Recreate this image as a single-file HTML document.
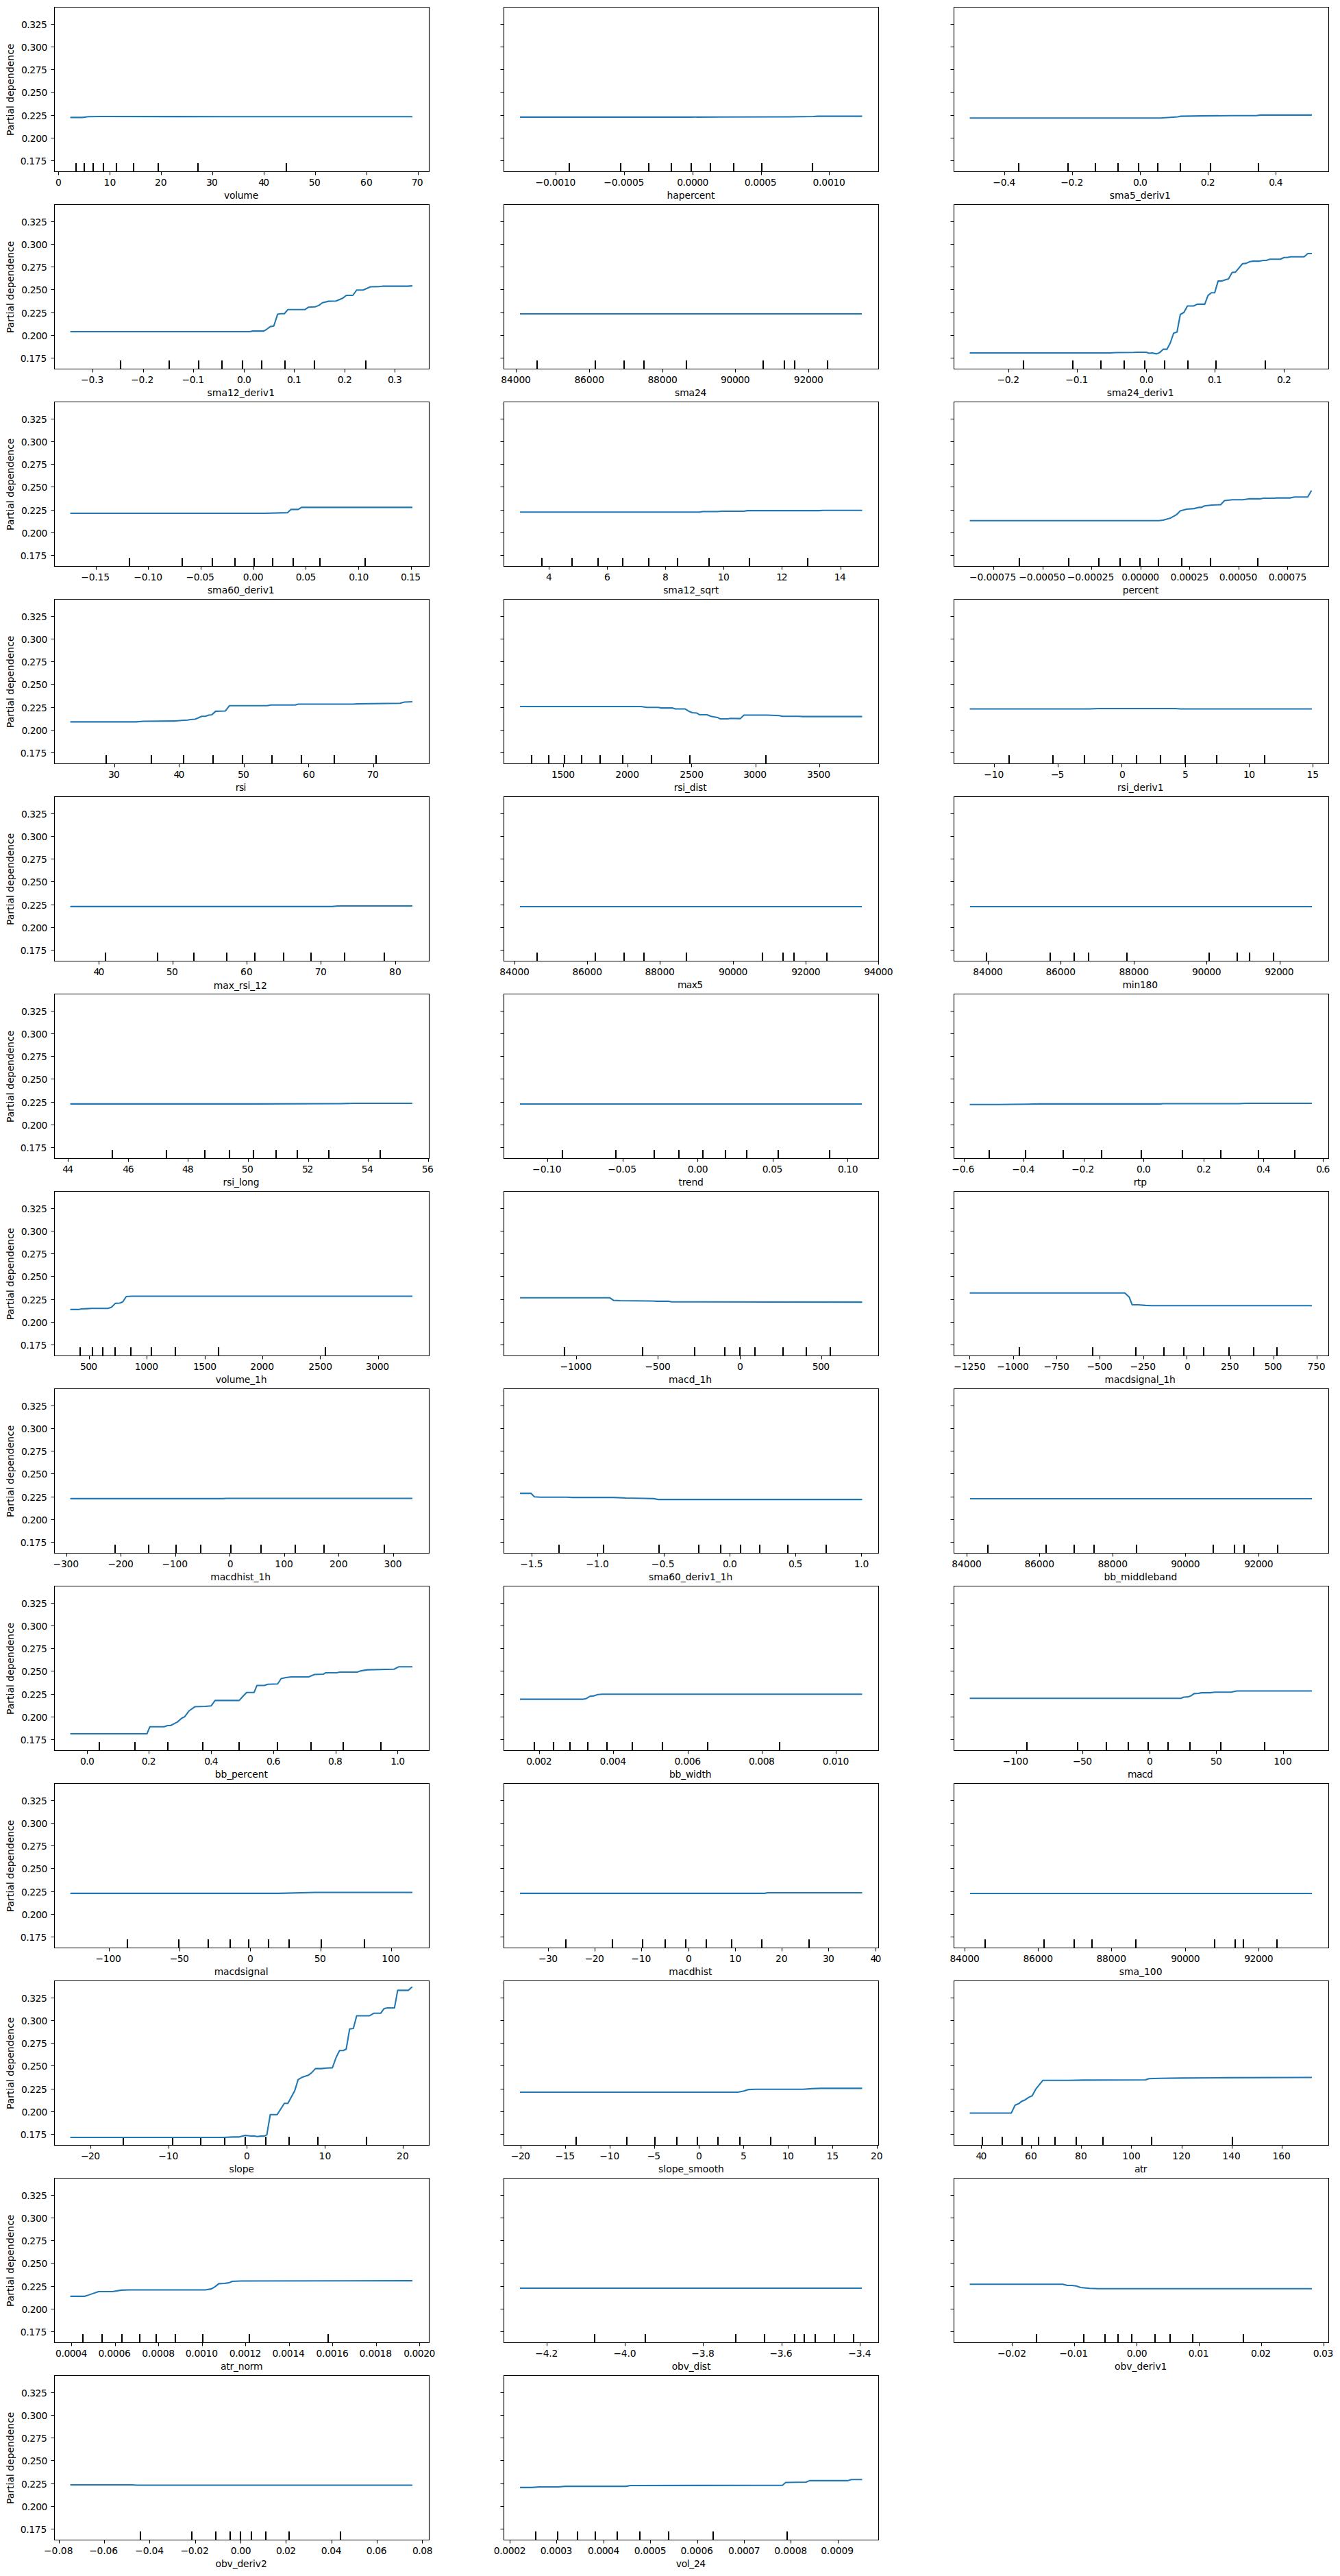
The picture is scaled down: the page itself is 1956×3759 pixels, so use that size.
<!DOCTYPE html>
<html><head><meta charset="utf-8"><title>Partial dependence plots</title>
<style>html,body{margin:0;padding:0;background:#fff;}body{width:1956px;height:3759px;overflow:hidden;}svg{display:block;}</style>
</head><body>
<svg width="1956" height="3759" viewBox="0 0 1956 3759">
<path fill="none" stroke="#000" stroke-width="1.11" stroke-linecap="square" d="M79.5 250.5 L79.5 10.5M626.5 250.5 L626.5 10.5M79.5 250.5 L626.5 250.5M79.5 10.5 L626.5 10.5M735.5 250.5 L735.5 10.5M1282.5 250.5 L1282.5 10.5M735.5 250.5 L1282.5 250.5M735.5 10.5 L1282.5 10.5M1392.5 250.5 L1392.5 10.5M1939.5 250.5 L1939.5 10.5M1392.5 250.5 L1939.5 250.5M1392.5 10.5 L1939.5 10.5M79.5 538.5 L79.5 298.5M626.5 538.5 L626.5 298.5M79.5 538.5 L626.5 538.5M79.5 298.5 L626.5 298.5M735.5 538.5 L735.5 298.5M1282.5 538.5 L1282.5 298.5M735.5 538.5 L1282.5 538.5M735.5 298.5 L1282.5 298.5M1392.5 538.5 L1392.5 298.5M1939.5 538.5 L1939.5 298.5M1392.5 538.5 L1939.5 538.5M1392.5 298.5 L1939.5 298.5M79.5 826.5 L79.5 586.5M626.5 826.5 L626.5 586.5M79.5 826.5 L626.5 826.5M79.5 586.5 L626.5 586.5M735.5 826.5 L735.5 586.5M1282.5 826.5 L1282.5 586.5M735.5 826.5 L1282.5 826.5M735.5 586.5 L1282.5 586.5M1392.5 826.5 L1392.5 586.5M1939.5 826.5 L1939.5 586.5M1392.5 826.5 L1939.5 826.5M1392.5 586.5 L1939.5 586.5M79.5 1114.5 L79.5 874.5M626.5 1114.5 L626.5 874.5M79.5 1114.5 L626.5 1114.5M79.5 874.5 L626.5 874.5M735.5 1114.5 L735.5 874.5M1282.5 1114.5 L1282.5 874.5M735.5 1114.5 L1282.5 1114.5M735.5 874.5 L1282.5 874.5M1392.5 1114.5 L1392.5 874.5M1939.5 1114.5 L1939.5 874.5M1392.5 1114.5 L1939.5 1114.5M1392.5 874.5 L1939.5 874.5M79.5 1402.5 L79.5 1162.5M626.5 1402.5 L626.5 1162.5M79.5 1402.5 L626.5 1402.5M79.5 1162.5 L626.5 1162.5M735.5 1402.5 L735.5 1162.5M1282.5 1402.5 L1282.5 1162.5M735.5 1402.5 L1282.5 1402.5M735.5 1162.5 L1282.5 1162.5M1392.5 1402.5 L1392.5 1162.5M1939.5 1402.5 L1939.5 1162.5M1392.5 1402.5 L1939.5 1402.5M1392.5 1162.5 L1939.5 1162.5M79.5 1690.5 L79.5 1450.5M626.5 1690.5 L626.5 1450.5M79.5 1690.5 L626.5 1690.5M79.5 1450.5 L626.5 1450.5M735.5 1690.5 L735.5 1450.5M1282.5 1690.5 L1282.5 1450.5M735.5 1690.5 L1282.5 1690.5M735.5 1450.5 L1282.5 1450.5M1392.5 1690.5 L1392.5 1450.5M1939.5 1690.5 L1939.5 1450.5M1392.5 1690.5 L1939.5 1690.5M1392.5 1450.5 L1939.5 1450.5M79.5 1978.5 L79.5 1738.5M626.5 1978.5 L626.5 1738.5M79.5 1978.5 L626.5 1978.5M79.5 1738.5 L626.5 1738.5M735.5 1978.5 L735.5 1738.5M1282.5 1978.5 L1282.5 1738.5M735.5 1978.5 L1282.5 1978.5M735.5 1738.5 L1282.5 1738.5M1392.5 1978.5 L1392.5 1738.5M1939.5 1978.5 L1939.5 1738.5M1392.5 1978.5 L1939.5 1978.5M1392.5 1738.5 L1939.5 1738.5M79.5 2266.5 L79.5 2026.5M626.5 2266.5 L626.5 2026.5M79.5 2266.5 L626.5 2266.5M79.5 2026.5 L626.5 2026.5M735.5 2266.5 L735.5 2026.5M1282.5 2266.5 L1282.5 2026.5M735.5 2266.5 L1282.5 2266.5M735.5 2026.5 L1282.5 2026.5M1392.5 2266.5 L1392.5 2026.5M1939.5 2266.5 L1939.5 2026.5M1392.5 2266.5 L1939.5 2266.5M1392.5 2026.5 L1939.5 2026.5M79.5 2554.5 L79.5 2314.5M626.5 2554.5 L626.5 2314.5M79.5 2554.5 L626.5 2554.5M79.5 2314.5 L626.5 2314.5M735.5 2554.5 L735.5 2314.5M1282.5 2554.5 L1282.5 2314.5M735.5 2554.5 L1282.5 2554.5M735.5 2314.5 L1282.5 2314.5M1392.5 2554.5 L1392.5 2314.5M1939.5 2554.5 L1939.5 2314.5M1392.5 2554.5 L1939.5 2554.5M1392.5 2314.5 L1939.5 2314.5M79.5 2842.5 L79.5 2602.5M626.5 2842.5 L626.5 2602.5M79.5 2842.5 L626.5 2842.5M79.5 2602.5 L626.5 2602.5M735.5 2842.5 L735.5 2602.5M1282.5 2842.5 L1282.5 2602.5M735.5 2842.5 L1282.5 2842.5M735.5 2602.5 L1282.5 2602.5M1392.5 2842.5 L1392.5 2602.5M1939.5 2842.5 L1939.5 2602.5M1392.5 2842.5 L1939.5 2842.5M1392.5 2602.5 L1939.5 2602.5M79.5 3130.5 L79.5 2890.5M626.5 3130.5 L626.5 2890.5M79.5 3130.5 L626.5 3130.5M79.5 2890.5 L626.5 2890.5M735.5 3130.5 L735.5 2890.5M1282.5 3130.5 L1282.5 2890.5M735.5 3130.5 L1282.5 3130.5M735.5 2890.5 L1282.5 2890.5M1392.5 3130.5 L1392.5 2890.5M1939.5 3130.5 L1939.5 2890.5M1392.5 3130.5 L1939.5 3130.5M1392.5 2890.5 L1939.5 2890.5M79.5 3418.5 L79.5 3178.5M626.5 3418.5 L626.5 3178.5M79.5 3418.5 L626.5 3418.5M79.5 3178.5 L626.5 3178.5M735.5 3418.5 L735.5 3178.5M1282.5 3418.5 L1282.5 3178.5M735.5 3418.5 L1282.5 3418.5M735.5 3178.5 L1282.5 3178.5M1392.5 3418.5 L1392.5 3178.5M1939.5 3418.5 L1939.5 3178.5M1392.5 3418.5 L1939.5 3418.5M1392.5 3178.5 L1939.5 3178.5M79.5 3706.5 L79.5 3466.5M626.5 3706.5 L626.5 3466.5M79.5 3706.5 L626.5 3706.5M79.5 3466.5 L626.5 3466.5M735.5 3706.5 L735.5 3466.5M1282.5 3706.5 L1282.5 3466.5M735.5 3706.5 L1282.5 3706.5M735.5 3466.5 L1282.5 3466.5"/>
<path fill="none" stroke="#000" stroke-width="1.11" stroke-linecap="butt" d="M85.5 250.5v5M160.5 250.5v5M235.5 250.5v5M310.5 250.5v5M385.5 250.5v5M460.5 250.5v5M535.5 250.5v5M610.5 250.5v5M79.5 234.5h-5M79.5 201.5h-5M79.5 168.5h-5M79.5 134.5h-5M79.5 101.5h-5M79.5 68.5h-5M79.5 35.5h-5M811.5 250.5v5M911.5 250.5v5M1011.5 250.5v5M1111.5 250.5v5M1210.5 250.5v5M735.5 234.5h-5M735.5 201.5h-5M735.5 168.5h-5M735.5 134.5h-5M735.5 101.5h-5M735.5 68.5h-5M735.5 35.5h-5M1466.5 250.5v5M1565.5 250.5v5M1664.5 250.5v5M1763.5 250.5v5M1862.5 250.5v5M1392.5 234.5h-5M1392.5 201.5h-5M1392.5 168.5h-5M1392.5 134.5h-5M1392.5 101.5h-5M1392.5 68.5h-5M1392.5 35.5h-5M135.5 538.5v5M209.5 538.5v5M282.5 538.5v5M356.5 538.5v5M429.5 538.5v5M503.5 538.5v5M576.5 538.5v5M79.5 522.5h-5M79.5 489.5h-5M79.5 456.5h-5M79.5 422.5h-5M79.5 389.5h-5M79.5 356.5h-5M79.5 323.5h-5M753.5 538.5v5M860.5 538.5v5M967.5 538.5v5M1073.5 538.5v5M1180.5 538.5v5M735.5 522.5h-5M735.5 489.5h-5M735.5 456.5h-5M735.5 422.5h-5M735.5 389.5h-5M735.5 356.5h-5M735.5 323.5h-5M1472.5 538.5v5M1572.5 538.5v5M1673.5 538.5v5M1773.5 538.5v5M1874.5 538.5v5M1392.5 522.5h-5M1392.5 489.5h-5M1392.5 456.5h-5M1392.5 422.5h-5M1392.5 389.5h-5M1392.5 356.5h-5M1392.5 323.5h-5M140.5 826.5v5M216.5 826.5v5M293.5 826.5v5M370.5 826.5v5M446.5 826.5v5M523.5 826.5v5M600.5 826.5v5M79.5 810.5h-5M79.5 777.5h-5M79.5 744.5h-5M79.5 710.5h-5M79.5 677.5h-5M79.5 644.5h-5M79.5 611.5h-5M801.5 826.5v5M886.5 826.5v5M971.5 826.5v5M1056.5 826.5v5M1141.5 826.5v5M1227.5 826.5v5M735.5 810.5h-5M735.5 777.5h-5M735.5 744.5h-5M735.5 710.5h-5M735.5 677.5h-5M735.5 644.5h-5M735.5 611.5h-5M1450.5 826.5v5M1522.5 826.5v5M1593.5 826.5v5M1665.5 826.5v5M1736.5 826.5v5M1808.5 826.5v5M1879.5 826.5v5M1392.5 810.5h-5M1392.5 777.5h-5M1392.5 744.5h-5M1392.5 710.5h-5M1392.5 677.5h-5M1392.5 644.5h-5M1392.5 611.5h-5M167.5 1114.5v5M261.5 1114.5v5M356.5 1114.5v5M450.5 1114.5v5M545.5 1114.5v5M79.5 1098.5h-5M79.5 1065.5h-5M79.5 1032.5h-5M79.5 998.5h-5M79.5 965.5h-5M79.5 932.5h-5M79.5 899.5h-5M822.5 1114.5v5M916.5 1114.5v5M1009.5 1114.5v5M1103.5 1114.5v5M1196.5 1114.5v5M735.5 1098.5h-5M735.5 1065.5h-5M735.5 1032.5h-5M735.5 998.5h-5M735.5 965.5h-5M735.5 932.5h-5M735.5 899.5h-5M1451.5 1114.5v5M1544.5 1114.5v5M1637.5 1114.5v5M1730.5 1114.5v5M1823.5 1114.5v5M1916.5 1114.5v5M1392.5 1098.5h-5M1392.5 1065.5h-5M1392.5 1032.5h-5M1392.5 998.5h-5M1392.5 965.5h-5M1392.5 932.5h-5M1392.5 899.5h-5M144.5 1402.5v5M252.5 1402.5v5M360.5 1402.5v5M468.5 1402.5v5M577.5 1402.5v5M79.5 1386.5h-5M79.5 1353.5h-5M79.5 1320.5h-5M79.5 1286.5h-5M79.5 1253.5h-5M79.5 1220.5h-5M79.5 1187.5h-5M751.5 1402.5v5M857.5 1402.5v5M963.5 1402.5v5M1070.5 1402.5v5M1176.5 1402.5v5M1282.5 1402.5v5M735.5 1386.5h-5M735.5 1353.5h-5M735.5 1320.5h-5M735.5 1286.5h-5M735.5 1253.5h-5M735.5 1220.5h-5M735.5 1187.5h-5M1442.5 1402.5v5M1548.5 1402.5v5M1655.5 1402.5v5M1761.5 1402.5v5M1868.5 1402.5v5M1392.5 1386.5h-5M1392.5 1353.5h-5M1392.5 1320.5h-5M1392.5 1286.5h-5M1392.5 1253.5h-5M1392.5 1220.5h-5M1392.5 1187.5h-5M99.5 1690.5v5M187.5 1690.5v5M274.5 1690.5v5M362.5 1690.5v5M450.5 1690.5v5M537.5 1690.5v5M625.5 1690.5v5M79.5 1674.5h-5M79.5 1641.5h-5M79.5 1608.5h-5M79.5 1574.5h-5M79.5 1541.5h-5M79.5 1508.5h-5M79.5 1475.5h-5M799.5 1690.5v5M909.5 1690.5v5M1018.5 1690.5v5M1128.5 1690.5v5M1237.5 1690.5v5M735.5 1674.5h-5M735.5 1641.5h-5M735.5 1608.5h-5M735.5 1574.5h-5M735.5 1541.5h-5M735.5 1508.5h-5M735.5 1475.5h-5M1407.5 1690.5v5M1494.5 1690.5v5M1582.5 1690.5v5M1669.5 1690.5v5M1757.5 1690.5v5M1844.5 1690.5v5M1931.5 1690.5v5M1392.5 1674.5h-5M1392.5 1641.5h-5M1392.5 1608.5h-5M1392.5 1574.5h-5M1392.5 1541.5h-5M1392.5 1508.5h-5M1392.5 1475.5h-5M130.5 1978.5v5M214.5 1978.5v5M299.5 1978.5v5M383.5 1978.5v5M467.5 1978.5v5M552.5 1978.5v5M79.5 1962.5h-5M79.5 1929.5h-5M79.5 1896.5h-5M79.5 1862.5h-5M79.5 1829.5h-5M79.5 1796.5h-5M79.5 1763.5h-5M841.5 1978.5v5M960.5 1978.5v5M1080.5 1978.5v5M1199.5 1978.5v5M735.5 1962.5h-5M735.5 1929.5h-5M735.5 1896.5h-5M735.5 1862.5h-5M735.5 1829.5h-5M735.5 1796.5h-5M735.5 1763.5h-5M1415.5 1978.5v5M1479.5 1978.5v5M1542.5 1978.5v5M1605.5 1978.5v5M1669.5 1978.5v5M1732.5 1978.5v5M1796.5 1978.5v5M1859.5 1978.5v5M1922.5 1978.5v5M1392.5 1962.5h-5M1392.5 1929.5h-5M1392.5 1896.5h-5M1392.5 1862.5h-5M1392.5 1829.5h-5M1392.5 1796.5h-5M1392.5 1763.5h-5M97.5 2266.5v5M176.5 2266.5v5M256.5 2266.5v5M335.5 2266.5v5M415.5 2266.5v5M494.5 2266.5v5M574.5 2266.5v5M79.5 2250.5h-5M79.5 2217.5h-5M79.5 2184.5h-5M79.5 2150.5h-5M79.5 2117.5h-5M79.5 2084.5h-5M79.5 2051.5h-5M776.5 2266.5v5M872.5 2266.5v5M969.5 2266.5v5M1065.5 2266.5v5M1161.5 2266.5v5M1257.5 2266.5v5M735.5 2250.5h-5M735.5 2217.5h-5M735.5 2184.5h-5M735.5 2150.5h-5M735.5 2117.5h-5M735.5 2084.5h-5M735.5 2051.5h-5M1411.5 2266.5v5M1517.5 2266.5v5M1624.5 2266.5v5M1730.5 2266.5v5M1837.5 2266.5v5M1392.5 2250.5h-5M1392.5 2217.5h-5M1392.5 2184.5h-5M1392.5 2150.5h-5M1392.5 2117.5h-5M1392.5 2084.5h-5M1392.5 2051.5h-5M127.5 2554.5v5M217.5 2554.5v5M308.5 2554.5v5M399.5 2554.5v5M490.5 2554.5v5M580.5 2554.5v5M79.5 2538.5h-5M79.5 2505.5h-5M79.5 2472.5h-5M79.5 2438.5h-5M79.5 2405.5h-5M79.5 2372.5h-5M79.5 2339.5h-5M787.5 2554.5v5M895.5 2554.5v5M1004.5 2554.5v5M1112.5 2554.5v5M1220.5 2554.5v5M735.5 2538.5h-5M735.5 2505.5h-5M735.5 2472.5h-5M735.5 2438.5h-5M735.5 2405.5h-5M735.5 2372.5h-5M735.5 2339.5h-5M1483.5 2554.5v5M1580.5 2554.5v5M1678.5 2554.5v5M1775.5 2554.5v5M1873.5 2554.5v5M1392.5 2538.5h-5M1392.5 2505.5h-5M1392.5 2472.5h-5M1392.5 2438.5h-5M1392.5 2405.5h-5M1392.5 2372.5h-5M1392.5 2339.5h-5M159.5 2842.5v5M262.5 2842.5v5M365.5 2842.5v5M468.5 2842.5v5M571.5 2842.5v5M79.5 2826.5h-5M79.5 2793.5h-5M79.5 2760.5h-5M79.5 2726.5h-5M79.5 2693.5h-5M79.5 2660.5h-5M79.5 2627.5h-5M800.5 2842.5v5M868.5 2842.5v5M936.5 2842.5v5M1005.5 2842.5v5M1073.5 2842.5v5M1141.5 2842.5v5M1209.5 2842.5v5M1278.5 2842.5v5M735.5 2826.5h-5M735.5 2793.5h-5M735.5 2760.5h-5M735.5 2726.5h-5M735.5 2693.5h-5M735.5 2660.5h-5M735.5 2627.5h-5M1408.5 2842.5v5M1515.5 2842.5v5M1622.5 2842.5v5M1730.5 2842.5v5M1837.5 2842.5v5M1392.5 2826.5h-5M1392.5 2793.5h-5M1392.5 2760.5h-5M1392.5 2726.5h-5M1392.5 2693.5h-5M1392.5 2660.5h-5M1392.5 2627.5h-5M132.5 3130.5v5M246.5 3130.5v5M360.5 3130.5v5M474.5 3130.5v5M588.5 3130.5v5M79.5 3114.5h-5M79.5 3081.5h-5M79.5 3048.5h-5M79.5 3014.5h-5M79.5 2981.5h-5M79.5 2948.5h-5M79.5 2915.5h-5M760.5 3130.5v5M825.5 3130.5v5M890.5 3130.5v5M955.5 3130.5v5M1020.5 3130.5v5M1085.5 3130.5v5M1150.5 3130.5v5M1215.5 3130.5v5M1280.5 3130.5v5M735.5 3114.5h-5M735.5 3081.5h-5M735.5 3048.5h-5M735.5 3014.5h-5M735.5 2981.5h-5M735.5 2948.5h-5M735.5 2915.5h-5M1432.5 3130.5v5M1505.5 3130.5v5M1578.5 3130.5v5M1651.5 3130.5v5M1725.5 3130.5v5M1798.5 3130.5v5M1871.5 3130.5v5M1392.5 3114.5h-5M1392.5 3081.5h-5M1392.5 3048.5h-5M1392.5 3014.5h-5M1392.5 2981.5h-5M1392.5 2948.5h-5M1392.5 2915.5h-5M104.5 3418.5v5M168.5 3418.5v5M231.5 3418.5v5M295.5 3418.5v5M358.5 3418.5v5M422.5 3418.5v5M485.5 3418.5v5M549.5 3418.5v5M612.5 3418.5v5M79.5 3402.5h-5M79.5 3369.5h-5M79.5 3336.5h-5M79.5 3302.5h-5M79.5 3269.5h-5M79.5 3236.5h-5M79.5 3203.5h-5M798.5 3418.5v5M912.5 3418.5v5M1026.5 3418.5v5M1141.5 3418.5v5M1255.5 3418.5v5M735.5 3402.5h-5M735.5 3369.5h-5M735.5 3336.5h-5M735.5 3302.5h-5M735.5 3269.5h-5M735.5 3236.5h-5M735.5 3203.5h-5M1477.5 3418.5v5M1568.5 3418.5v5M1659.5 3418.5v5M1750.5 3418.5v5M1841.5 3418.5v5M1932.5 3418.5v5M1392.5 3402.5h-5M1392.5 3369.5h-5M1392.5 3336.5h-5M1392.5 3302.5h-5M1392.5 3269.5h-5M1392.5 3236.5h-5M1392.5 3203.5h-5M86.5 3706.5v5M152.5 3706.5v5M218.5 3706.5v5M285.5 3706.5v5M351.5 3706.5v5M417.5 3706.5v5M484.5 3706.5v5M550.5 3706.5v5M616.5 3706.5v5M79.5 3690.5h-5M79.5 3657.5h-5M79.5 3624.5h-5M79.5 3590.5h-5M79.5 3557.5h-5M79.5 3524.5h-5M79.5 3491.5h-5M744.5 3706.5v5M812.5 3706.5v5M881.5 3706.5v5M949.5 3706.5v5M1018.5 3706.5v5M1086.5 3706.5v5M1154.5 3706.5v5M1223.5 3706.5v5M735.5 3690.5h-5M735.5 3657.5h-5M735.5 3624.5h-5M735.5 3590.5h-5M735.5 3557.5h-5M735.5 3524.5h-5M735.5 3491.5h-5"/>
<path fill="none" stroke="#000" stroke-width="2.08" stroke-linecap="butt" d="M111 250V238M123 250V238M136 250V238M151 250V238M170 250V238M195 250V238M231 250V238M289 250V238M418 250V238M831 250V238M906 250V238M947 250V238M980 250V238M1009 250V238M1037 250V238M1071 250V238M1112 250V238M1186 250V238M1487 250V238M1559 250V238M1599 250V238M1632 250V238M1662 250V238M1690 250V238M1723 250V238M1767 250V238M1837 250V238M176 538V526M247 538V526M290 538V526M324 538V526M354 538V526M382 538V526M416 538V526M459 538V526M534 538V526M784 538V526M869 538V526M911 538V526M940 538V526M1002 538V526M1114 538V526M1145 538V526M1160 538V526M1208 538V526M1494 538V526M1566 538V526M1607 538V526M1641 538V526M1671 538V526M1700 538V526M1734 538V526M1775 538V526M1847 538V526M189 826V814M266 826V814M310 826V814M343 826V814M371 826V814M398 826V814M428 826V814M467 826V814M533 826V814M791 826V814M835 826V814M873 826V814M909 826V814M947 826V814M989 826V814M1035 826V814M1094 826V814M1179 826V814M1488 826V814M1560 826V814M1604 826V814M1635 826V814M1664 826V814M1691 826V814M1725 826V814M1767 826V814M1836 826V814M155 1114V1102M221 1114V1102M268 1114V1102M311 1114V1102M354 1114V1102M397 1114V1102M440 1114V1102M488 1114V1102M549 1114V1102M776 1114V1102M801 1114V1102M824 1114V1102M849 1114V1102M876 1114V1102M909 1114V1102M951 1114V1102M1007 1114V1102M1118 1114V1102M1473 1114V1102M1537 1114V1102M1583 1114V1102M1624 1114V1102M1659 1114V1102M1694 1114V1102M1730 1114V1102M1776 1114V1102M1846 1114V1102M154 1402V1390M230 1402V1390M283 1402V1390M331 1402V1390M372 1402V1390M414 1402V1390M454 1402V1390M503 1402V1390M561 1402V1390M784 1402V1390M869 1402V1390M911 1402V1390M940 1402V1390M1002 1402V1390M1113 1402V1390M1143 1402V1390M1159 1402V1390M1207 1402V1390M1440 1402V1390M1533 1402V1390M1568 1402V1390M1589 1402V1390M1645 1402V1390M1765 1402V1390M1806 1402V1390M1824 1402V1390M1859 1402V1390M164 1690V1678M243 1690V1678M299 1690V1678M335 1690V1678M370 1690V1678M403 1690V1678M434 1690V1678M480 1690V1678M555 1690V1678M821 1690V1678M899 1690V1678M955 1690V1678M991 1690V1678M1026 1690V1678M1059 1690V1678M1090 1690V1678M1136 1690V1678M1211 1690V1678M1444 1690V1678M1497 1690V1678M1552 1690V1678M1608 1690V1678M1666 1690V1678M1726 1690V1678M1782 1690V1678M1837 1690V1678M1890 1690V1678M117 1978V1966M135 1978V1966M150 1978V1966M168 1978V1966M191 1978V1966M221 1978V1966M256 1978V1966M319 1978V1966M475 1978V1966M824 1978V1966M938 1978V1966M1014 1978V1966M1058 1978V1966M1080 1978V1966M1102 1978V1966M1143 1978V1966M1177 1978V1966M1212 1978V1966M1488 1978V1966M1595 1978V1966M1658 1978V1966M1699 1978V1966M1728 1978V1966M1757 1978V1966M1794 1978V1966M1830 1978V1966M1864 1978V1966M168 2266V2254M217 2266V2254M257 2266V2254M293 2266V2254M337 2266V2254M381 2266V2254M431 2266V2254M473 2266V2254M561 2266V2254M816 2266V2254M881 2266V2254M962 2266V2254M1020 2266V2254M1052 2266V2254M1081 2266V2254M1109 2266V2254M1150 2266V2254M1206 2266V2254M1442 2266V2254M1527 2266V2254M1568 2266V2254M1597 2266V2254M1659 2266V2254M1771 2266V2254M1802 2266V2254M1816 2266V2254M1865 2266V2254M145 2554V2542M197 2554V2542M245 2554V2542M296 2554V2542M349 2554V2542M405 2554V2542M454 2554V2542M501 2554V2542M556 2554V2542M780 2554V2542M808 2554V2542M832 2554V2542M858 2554V2542M886 2554V2542M923 2554V2542M967 2554V2542M1033 2554V2542M1138 2554V2542M1499 2554V2542M1573 2554V2542M1615 2554V2542M1647 2554V2542M1676 2554V2542M1705 2554V2542M1737 2554V2542M1782 2554V2542M1846 2554V2542M186 2842V2830M261 2842V2830M304 2842V2830M336 2842V2830M363 2842V2830M392 2842V2830M422 2842V2830M469 2842V2830M532 2842V2830M826 2842V2830M894 2842V2830M938 2842V2830M971 2842V2830M1001 2842V2830M1031 2842V2830M1068 2842V2830M1112 2842V2830M1181 2842V2830M1438 2842V2830M1524 2842V2830M1568 2842V2830M1594 2842V2830M1658 2842V2830M1773 2842V2830M1803 2842V2830M1815 2842V2830M1864 2842V2830M180 3130V3118M252 3130V3118M293 3130V3118M328 3130V3118M358 3130V3118M388 3130V3118M422 3130V3118M464 3130V3118M535 3130V3118M841 3130V3118M915 3130V3118M956 3130V3118M988 3130V3118M1018 3130V3118M1048 3130V3118M1080 3130V3118M1125 3130V3118M1190 3130V3118M1434 3130V3118M1463 3130V3118M1492 3130V3118M1516 3130V3118M1540 3130V3118M1571 3130V3118M1610 3130V3118M1681 3130V3118M1799 3130V3118M121 3418V3406M149 3418V3406M178 3418V3406M204 3418V3406M228 3418V3406M256 3418V3406M296 3418V3406M364 3418V3406M479 3418V3406M868 3418V3406M942 3418V3406M1074 3418V3406M1116 3418V3406M1160 3418V3406M1174 3418V3406M1190 3418V3406M1218 3418V3406M1246 3418V3406M1513 3418V3406M1582 3418V3406M1613 3418V3406M1632 3418V3406M1652 3418V3406M1686 3418V3406M1708 3418V3406M1741 3418V3406M1815 3418V3406M205 3706V3694M280 3706V3694M315 3706V3694M336 3706V3694M351 3706V3694M367 3706V3694M388 3706V3694M422 3706V3694M497 3706V3694M782 3706V3694M814 3706V3694M843 3706V3694M869 3706V3694M901 3706V3694M934 3706V3694M976 3706V3694M1041 3706V3694M1149 3706V3694"/>
<path fill="none" stroke="#1f77b4" stroke-width="2.08" stroke-linecap="square" stroke-linejoin="round" d="M103.64 171.36 L120.37 171.36 L129.03 170.28 L146.34 170.06 L340.11 170.19 L600.97 170.19"/>
<path fill="none" stroke="#1f77b4" stroke-width="2.08" stroke-linecap="square" stroke-linejoin="round" d="M760.11 170.88 L1008.41 170.88 L1051.47 170.67 L1152.66 170.45 L1187.1 170.02 L1193.56 169.59 L1257.44 169.59"/>
<path fill="none" stroke="#1f77b4" stroke-width="2.08" stroke-linecap="square" stroke-linejoin="round" d="M1416.59 172.18 L1693.55 172.18 L1719.39 170.45 L1723.69 169.59 L1753.83 169.16 L1796.89 168.73 L1833.49 168.73 L1839.95 167.87 L1913.91 167.87"/>
<path fill="none" stroke="#1f77b4" stroke-width="2.08" stroke-linecap="square" stroke-linejoin="round" d="M103.64 483.97 L364.32 483.97 L368.63 483.11 L384.99 483.11 L389.3 480.52 L394.47 476.65 L399.63 475.79 L405.23 458.56 L410.4 457.7 L415.13 457.7 L420.3 451.67 L445.28 451.67 L450.44 448.23 L459.92 447.8 L465.51 445.65 L470.68 441.77 L479.72 439.62 L490.49 439.19 L499.96 435.31 L505.56 431.01 L515.03 431.01 L520.63 423.26 L530.1 423.26 L540.87 418.52 L553.79 418.09 L558.09 417.66 L594.69 417.66 L600.97 417.23"/>
<path fill="none" stroke="#1f77b4" stroke-width="2.08" stroke-linecap="square" stroke-linejoin="round" d="M760 458 L1257 458"/>
<path fill="none" stroke="#1f77b4" stroke-width="2.08" stroke-linecap="square" stroke-linejoin="round" d="M1416.59 514.97 L1620.35 514.97 L1628.96 514.54 L1654.8 514.33 L1660.11 513.98 L1673.09 513.98 L1677.42 515.5 L1681.75 515.06 L1688.24 516.36 L1692.57 514.63 L1697.98 509.65 L1703.39 509.65 L1708.15 500.78 L1713.13 486.28 L1718.11 484.55 L1722.87 459.01 L1728.28 455.76 L1733.26 446.46 L1742.35 446.46 L1747.76 443.86 L1758.58 443.86 L1763.34 431.09 L1768.32 427.2 L1773.08 427.2 L1778.05 410.1 L1783.46 410.1 L1788.87 408.15 L1793.2 407.07 L1798.61 397.55 L1803.37 397.12 L1813.76 384.78 L1818.74 384.35 L1824.58 381.75 L1828.91 381.1 L1838.65 381.1 L1844.06 380.02 L1848.39 380.02 L1853.8 378.29 L1868.95 378.29 L1874.36 375.69 L1878.69 375.69 L1884.1 374.82 L1903.58 374.82 L1908.99 370.06 L1913.91 370.06"/>
<path fill="none" stroke="#1f77b4" stroke-width="2.08" stroke-linecap="square" stroke-linejoin="round" d="M103.64 749.01 L385.85 749.01 L419.44 748.15 L424.61 743.41 L435.37 743.41 L440.11 740.4 L600.97 740.4"/>
<path fill="none" stroke="#1f77b4" stroke-width="2.08" stroke-linecap="square" stroke-linejoin="round" d="M760.11 747.29 L1021.32 747.29 L1025.63 746.43 L1047.16 746.43 L1053.62 746 L1085.91 746 L1091.08 745.14 L1195.72 745.14 L1202.18 744.71 L1257.44 744.71"/>
<path fill="none" stroke="#1f77b4" stroke-width="2.08" stroke-linecap="square" stroke-linejoin="round" d="M1416.59 759.78 L1691.4 759.78 L1697.86 758.91 L1708.62 755.9 L1717.23 751.16 L1722.83 745.57 L1732.3 742.98 L1743.07 742.12 L1749.53 740.4 L1753.83 740.4 L1758.14 738.25 L1768.9 736.95 L1781.82 736.52 L1787.42 730.5 L1799.05 729.2 L1814.12 729.2 L1822.73 727.91 L1839.09 727.91 L1844.26 727.05 L1859.33 727.05 L1863.63 726.62 L1883.01 726.62 L1889.47 725.33 L1908.85 725.33 L1913.91 716.72"/>
<path fill="none" stroke="#1f77b4" stroke-width="2.08" stroke-linecap="square" stroke-linejoin="round" d="M103.64 1053.37 L198.54 1053.37 L209.31 1052.51 L256.68 1052.08 L265.29 1051.22 L273.9 1050.79 L278.21 1049.93 L284.66 1049.5 L288.97 1047.78 L294.57 1045.19 L299.73 1045.19 L304.9 1043.47 L309.21 1043.04 L314.81 1037.87 L329.02 1037.44 L335.04 1029.69 L390.16 1029.69 L395.33 1028.83 L431.07 1028.83 L435.37 1027.54 L515.03 1027.54 L521.49 1027.11 L583.93 1026.25 L590.39 1024.52 L600.97 1024.09"/>
<path fill="none" stroke="#1f77b4" stroke-width="2.08" stroke-linecap="square" stroke-linejoin="round" d="M760.11 1030.98 L936.07 1030.98 L943.82 1032.27 L961.04 1032.27 L965.35 1033.14 L981.71 1033.14 L986.02 1034.43 L999.8 1034.43 L1006.25 1038.3 L1010.56 1040.03 L1017.02 1040.46 L1021.32 1043.04 L1032.09 1043.04 L1037.69 1045.19 L1047.16 1046.91 L1051.47 1049.07 L1062.23 1049.07 L1066.54 1048.21 L1080.75 1048.64 L1085.91 1043.47 L1120.36 1043.47 L1137.59 1044.33 L1141.89 1045.19 L1165.57 1045.19 L1172.03 1045.62 L1257.44 1045.62"/>
<path fill="none" stroke="#1f77b4" stroke-width="2.08" stroke-linecap="square" stroke-linejoin="round" d="M1416.59 1034.43 L1590.21 1034.43 L1603.12 1034 L1715.08 1034 L1723.69 1034.43 L1913.91 1034.43"/>
<path fill="none" stroke="#1f77b4" stroke-width="2.08" stroke-linecap="square" stroke-linejoin="round" d="M103.64 1322.86 L484.89 1322.86 L493.5 1322 L600.97 1322"/>
<path fill="none" stroke="#1f77b4" stroke-width="2.08" stroke-linecap="square" stroke-linejoin="round" d="M760 1323 L1257 1323"/>
<path fill="none" stroke="#1f77b4" stroke-width="2.08" stroke-linecap="square" stroke-linejoin="round" d="M1417 1323 L1914 1323"/>
<path fill="none" stroke="#1f77b4" stroke-width="2.08" stroke-linecap="square" stroke-linejoin="round" d="M103.64 1610.86 L368.63 1610.86 L497.81 1610.43 L517.19 1610 L600.97 1610"/>
<path fill="none" stroke="#1f77b4" stroke-width="2.08" stroke-linecap="square" stroke-linejoin="round" d="M760 1611 L1257 1611"/>
<path fill="none" stroke="#1f77b4" stroke-width="2.08" stroke-linecap="square" stroke-linejoin="round" d="M1416.59 1611.72 L1456.72 1611.72 L1499.78 1611.29 L1517.01 1610.86 L1693.55 1610.86 L1697.86 1610.43 L1809.81 1610.43 L1818.42 1610 L1913.91 1610"/>
<path fill="none" stroke="#1f77b4" stroke-width="2.08" stroke-linecap="square" stroke-linejoin="round" d="M103.64 1910.91 L114.58 1910.91 L118.88 1910.05 L127.5 1909.62 L133.96 1909.19 L157.64 1909.19 L162.81 1907.47 L168.4 1901.87 L174.86 1901.44 L179.17 1899.72 L184.34 1891.97 L192.09 1891.54 L600.97 1891.54"/>
<path fill="none" stroke="#1f77b4" stroke-width="2.08" stroke-linecap="square" stroke-linejoin="round" d="M760.11 1893.69 L889.99 1893.69 L895.59 1897.57 L905.06 1898 L952.43 1898.43 L958.89 1898.86 L976.11 1898.86 L980.42 1899.72 L1257.44 1900.15"/>
<path fill="none" stroke="#1f77b4" stroke-width="2.08" stroke-linecap="square" stroke-linejoin="round" d="M1416.59 1886.8 L1641.88 1886.8 L1648.34 1892.83 L1652.64 1904.03 L1661.25 1904.03 L1672.02 1904.89 L1680.63 1905.32 L1913.91 1905.32"/>
<path fill="none" stroke="#1f77b4" stroke-width="2.08" stroke-linecap="square" stroke-linejoin="round" d="M103.64 2186.86 L325.57 2186.86 L329.88 2186.43 L600.97 2186.43"/>
<path fill="none" stroke="#1f77b4" stroke-width="2.08" stroke-linecap="square" stroke-linejoin="round" d="M760.11 2179.11 L775.02 2179.11 L780.19 2184.27 L788.8 2184.71 L827.56 2184.71 L836.17 2185.14 L896.45 2185.14 L913.68 2186 L939.51 2186.43 L954.58 2186.86 L961.04 2188.15 L1257.44 2188.15"/>
<path fill="none" stroke="#1f77b4" stroke-width="2.08" stroke-linecap="square" stroke-linejoin="round" d="M1417 2187 L1914 2187"/>
<path fill="none" stroke="#1f77b4" stroke-width="2.08" stroke-linecap="square" stroke-linejoin="round" d="M103.64 2530.06 L214.48 2530.06 L218.78 2519.73 L239.45 2519.73 L244.62 2518.01 L248.92 2518.01 L258.83 2512.84 L265.29 2507.24 L269.59 2505.09 L276.05 2496.48 L284.66 2490.45 L299.73 2490.02 L308.35 2489.16 L313.94 2481.41 L349.25 2481.41 L354.85 2474.95 L360.02 2469.78 L370.78 2469.78 L375.09 2459.44 L385.85 2459.44 L391.02 2457.72 L405.23 2457.29 L410.4 2449.54 L416 2448.25 L424.61 2446.96 L450.44 2446.96 L459.06 2443.51 L471.97 2443.08 L475.42 2440.93 L491.35 2440.93 L495.66 2440.07 L521.49 2440.07 L525.8 2438.35 L536.56 2436.62 L575.32 2435.76 L581.78 2432.32 L600.97 2432.32"/>
<path fill="none" stroke="#1f77b4" stroke-width="2.08" stroke-linecap="square" stroke-linejoin="round" d="M760.11 2479.59 L851.24 2479.59 L855.55 2478.73 L861.14 2475.29 L866.31 2474.86 L872.77 2472.71 L879.23 2472.27 L1257.44 2472.27"/>
<path fill="none" stroke="#1f77b4" stroke-width="2.08" stroke-linecap="square" stroke-linejoin="round" d="M1416.59 2478.3 L1723.69 2478.3 L1728 2476.58 L1734.46 2476.15 L1738.76 2474.43 L1743.07 2471.41 L1749.53 2470.98 L1753.83 2470.12 L1766.75 2470.12 L1773.21 2469.26 L1796.89 2469.26 L1805.5 2467.54 L1913.91 2467.54"/>
<path fill="none" stroke="#1f77b4" stroke-width="2.08" stroke-linecap="square" stroke-linejoin="round" d="M103.64 2762.86 L407.38 2762.86 L459.06 2761.57 L600.97 2761.57"/>
<path fill="none" stroke="#1f77b4" stroke-width="2.08" stroke-linecap="square" stroke-linejoin="round" d="M760.11 2762.86 L1116.06 2762.86 L1120.36 2762 L1257.44 2762"/>
<path fill="none" stroke="#1f77b4" stroke-width="2.08" stroke-linecap="square" stroke-linejoin="round" d="M1417 2763 L1914 2763"/>
<path fill="none" stroke="#1f77b4" stroke-width="2.08" stroke-linecap="square" stroke-linejoin="round" d="M103.64 3119.03 L325.57 3119.03 L340.1 3118.35 L349.17 3118.35 L358.23 3115.94 L366.29 3116.94 L370.32 3116.74 L375.36 3117.75 L380.4 3117.15 L385.43 3117.15 L389.46 3115.33 L394.5 3085.71 L404.58 3085.71 L415.05 3069.19 L420.29 3069.19 L430.16 3051.06 L435.2 3034.53 L440.84 3031.31 L449.91 3028.29 L454.95 3024.66 L460.39 3018.62 L469.05 3018.62 L477.11 3017.81 L485.17 3017.41 L490.81 3001.89 L495.65 2992.22 L500.89 2992.22 L505.32 2990.2 L510.36 2960.79 L515.8 2959.98 L520.63 2941.44 L539.58 2941.44 L545.62 2937.82 L555.69 2937.82 L560.73 2930.97 L565.77 2929.96 L575.84 2929.96 L580.48 2904.37 L595.99 2904.37 L600.97 2899.94"/>
<path fill="none" stroke="#1f77b4" stroke-width="2.08" stroke-linecap="square" stroke-linejoin="round" d="M760.11 3053.01 L1077.3 3053.01 L1085.91 3051.29 L1092.37 3049.14 L1103.14 3048.71 L1172.03 3048.71 L1184.95 3047.84 L1197.87 3047.41 L1257.44 3047.41"/>
<path fill="none" stroke="#1f77b4" stroke-width="2.08" stroke-linecap="square" stroke-linejoin="round" d="M1416.59 3083.58 L1476.1 3083.58 L1481.7 3071.96 L1486.86 3069.8 L1492.03 3065.93 L1496.34 3064.21 L1501.93 3060.33 L1506.67 3058.18 L1511.84 3048.71 L1522.17 3035.79 L1560.06 3035.79 L1581.59 3035.36 L1672.02 3034.93 L1677.19 3033.2 L1693.55 3032.77 L1723.69 3032.34 L1788.28 3031.91 L1913.91 3031.48"/>
<path fill="none" stroke="#1f77b4" stroke-width="2.08" stroke-linecap="square" stroke-linejoin="round" d="M103.64 3350.91 L123.19 3350.91 L127.5 3349.62 L136.11 3346.61 L143.86 3344.03 L164.1 3344.03 L177.02 3341.87 L187.78 3341.44 L299.73 3341.44 L308.35 3340.15 L313.51 3337.14 L319.54 3332.4 L327.72 3331.97 L334.18 3331.11 L339.35 3328.95 L351.41 3328.52 L600.97 3328.09"/>
<path fill="none" stroke="#1f77b4" stroke-width="2.08" stroke-linecap="square" stroke-linejoin="round" d="M760 3339 L1257 3339"/>
<path fill="none" stroke="#1f77b4" stroke-width="2.08" stroke-linecap="square" stroke-linejoin="round" d="M1416.59 3333.26 L1551.45 3333.26 L1557.91 3334.98 L1564.37 3334.98 L1570.83 3335.84 L1577.29 3338 L1590.21 3339.29 L1603.12 3339.72 L1913.91 3339.72"/>
<path fill="none" stroke="#1f77b4" stroke-width="2.08" stroke-linecap="square" stroke-linejoin="round" d="M103.64 3626 L192.09 3626 L200.7 3626.43 L600.97 3626.43"/>
<path fill="none" stroke="#1f77b4" stroke-width="2.08" stroke-linecap="square" stroke-linejoin="round" d="M760.11 3629.87 L775.89 3629.87 L786.65 3629.01 L814.64 3629.01 L825.4 3628.15 L913.68 3628.15 L920.13 3627.07 L1100.07 3626.67 L1141.9 3626.67 L1146.86 3622.42 L1176.64 3622 L1181.6 3619.87 L1237.61 3619.87 L1242.57 3618.31 L1257.44 3618.31"/>
<g font-family="DejaVu Sans, Liberation Sans, sans-serif" font-size="13.89" fill="#000">
<text x="85.29" y="270.98" text-anchor="middle">0</text>
<text x="160.41" y="270.84" text-anchor="middle" textLength="17.66" lengthAdjust="spacing">10</text>
<text x="234.87" y="270.84" text-anchor="middle" textLength="17.66" lengthAdjust="spacing">20</text>
<text x="309.42" y="270.81" text-anchor="middle" textLength="17.06" lengthAdjust="spacing">30</text>
<text x="385.26" y="270.77" text-anchor="middle" textLength="15.86" lengthAdjust="spacing">40</text>
<text x="459.39" y="270.97" text-anchor="middle" textLength="17.06" lengthAdjust="spacing">50</text>
<text x="534.94" y="271.02" text-anchor="middle" textLength="17.66" lengthAdjust="spacing">60</text>
<text x="609.17" y="271.03" text-anchor="middle" textLength="17.06" lengthAdjust="spacing">70</text>
<text x="352.09" y="290.29" text-anchor="middle" textLength="50.21" lengthAdjust="spacing">volume</text>
<text x="68.22" y="240.11" text-anchor="end" textLength="38.53" lengthAdjust="spacing">0.175</text>
<text x="69.36" y="206.91" text-anchor="end" textLength="37.93" lengthAdjust="spacing">0.200</text>
<text x="68.87" y="173.65" text-anchor="end" textLength="37.93" lengthAdjust="spacing">0.225</text>
<text x="69.29" y="140.03" text-anchor="end" textLength="37.93" lengthAdjust="spacing">0.250</text>
<text x="68.84" y="107.34" text-anchor="end" textLength="37.93" lengthAdjust="spacing">0.275</text>
<text x="69.37" y="74.12" text-anchor="end" textLength="38.53" lengthAdjust="spacing">0.300</text>
<text x="68.83" y="40.86" text-anchor="end" textLength="37.93" lengthAdjust="spacing">0.325</text>
<text transform="translate(20.41 130.81) rotate(-90)" text-anchor="middle" textLength="134.4" lengthAdjust="spacing">Partial dependence</text>
<text x="810.95" y="270.92" text-anchor="middle" textLength="58.99" lengthAdjust="spacing">−0.0010</text>
<text x="910.84" y="270.96" text-anchor="middle" textLength="58.99" lengthAdjust="spacing">−0.0005</text>
<text x="1011.35" y="270.98" text-anchor="middle" textLength="46.16" lengthAdjust="spacing">0.0000</text>
<text x="1110.19" y="270.98" text-anchor="middle" textLength="46.76" lengthAdjust="spacing">0.0005</text>
<text x="1210.2" y="270.93" text-anchor="middle" textLength="47.36" lengthAdjust="spacing">0.0010</text>
<text x="1008.5" y="290.31" text-anchor="middle" textLength="69.85" lengthAdjust="spacing">hapercent</text>
<text x="1465.76" y="270.77" text-anchor="middle" textLength="33.1" lengthAdjust="spacing">−0.4</text>
<text x="1564.74" y="270.83" text-anchor="middle" textLength="33.1" lengthAdjust="spacing">−0.2</text>
<text x="1664.46" y="270.98" text-anchor="middle" textLength="20.88" lengthAdjust="spacing">0.0</text>
<text x="1763.25" y="270.86" text-anchor="middle" textLength="20.88" lengthAdjust="spacing">0.2</text>
<text x="1862.32" y="270.78" text-anchor="middle" textLength="20.28" lengthAdjust="spacing">0.4</text>
<text x="1664.29" y="290.45" text-anchor="middle" textLength="88.97" lengthAdjust="spacing">sma5_deriv1</text>
<text x="134.66" y="558.81" text-anchor="middle" textLength="33.1" lengthAdjust="spacing">−0.3</text>
<text x="207.74" y="558.83" text-anchor="middle" textLength="33.1" lengthAdjust="spacing">−0.2</text>
<text x="281.85" y="558.82" text-anchor="middle" textLength="32.5" lengthAdjust="spacing">−0.1</text>
<text x="356.35" y="558.98" text-anchor="middle" textLength="20.88" lengthAdjust="spacing">0.0</text>
<text x="429.32" y="558.85" text-anchor="middle" textLength="20.88" lengthAdjust="spacing">0.1</text>
<text x="503.3" y="558.86" text-anchor="middle" textLength="20.88" lengthAdjust="spacing">0.2</text>
<text x="576.32" y="558.83" text-anchor="middle" textLength="20.88" lengthAdjust="spacing">0.3</text>
<text x="351.76" y="578.4" text-anchor="middle" textLength="98.4" lengthAdjust="spacing">sma12_deriv1</text>
<text x="68.22" y="528.11" text-anchor="end" textLength="38.53" lengthAdjust="spacing">0.175</text>
<text x="69.36" y="494.91" text-anchor="end" textLength="37.93" lengthAdjust="spacing">0.200</text>
<text x="68.87" y="461.65" text-anchor="end" textLength="37.93" lengthAdjust="spacing">0.225</text>
<text x="69.29" y="428.03" text-anchor="end" textLength="37.93" lengthAdjust="spacing">0.250</text>
<text x="68.84" y="395.34" text-anchor="end" textLength="37.93" lengthAdjust="spacing">0.275</text>
<text x="69.37" y="362.12" text-anchor="end" textLength="38.53" lengthAdjust="spacing">0.300</text>
<text x="68.83" y="328.86" text-anchor="end" textLength="37.93" lengthAdjust="spacing">0.325</text>
<text transform="translate(20.41 418.81) rotate(-90)" text-anchor="middle" textLength="134.4" lengthAdjust="spacing">Partial dependence</text>
<text x="753.12" y="558.88" text-anchor="middle" textLength="43.54" lengthAdjust="spacing">84000</text>
<text x="860.2" y="558.98" text-anchor="middle" textLength="43.54" lengthAdjust="spacing">86000</text>
<text x="967.17" y="558.94" text-anchor="middle" textLength="43.54" lengthAdjust="spacing">88000</text>
<text x="1073.29" y="558.94" text-anchor="middle" textLength="42.34" lengthAdjust="spacing">90000</text>
<text x="1180.33" y="558.88" text-anchor="middle" textLength="42.94" lengthAdjust="spacing">92000</text>
<text x="1008.22" y="578.29" text-anchor="middle" textLength="46.31" lengthAdjust="spacing">sma24</text>
<text x="1471.71" y="558.83" text-anchor="middle" textLength="32.5" lengthAdjust="spacing">−0.2</text>
<text x="1571.87" y="558.82" text-anchor="middle" textLength="33.1" lengthAdjust="spacing">−0.1</text>
<text x="1673.43" y="558.98" text-anchor="middle" textLength="20.88" lengthAdjust="spacing">0.0</text>
<text x="1773.32" y="558.85" text-anchor="middle" textLength="20.88" lengthAdjust="spacing">0.1</text>
<text x="1874.32" y="558.86" text-anchor="middle" textLength="20.88" lengthAdjust="spacing">0.2</text>
<text x="1664.72" y="578.4" text-anchor="middle" textLength="97.8" lengthAdjust="spacing">sma24_deriv1</text>
<text x="139.14" y="846.88" text-anchor="middle" textLength="41.93" lengthAdjust="spacing">−0.15</text>
<text x="216.2" y="846.87" text-anchor="middle" textLength="41.93" lengthAdjust="spacing">−0.10</text>
<text x="292.15" y="846.96" text-anchor="middle" textLength="41.33" lengthAdjust="spacing">−0.05</text>
<text x="369.7" y="846.98" text-anchor="middle" textLength="29.71" lengthAdjust="spacing">0.00</text>
<text x="446.54" y="846.98" text-anchor="middle" textLength="29.71" lengthAdjust="spacing">0.05</text>
<text x="523.77" y="846.9" text-anchor="middle" textLength="29.11" lengthAdjust="spacing">0.10</text>
<text x="599.59" y="846.9" text-anchor="middle" textLength="29.11" lengthAdjust="spacing">0.15</text>
<text x="351.78" y="866.47" text-anchor="middle" textLength="97.8" lengthAdjust="spacing">sma60_deriv1</text>
<text x="68.22" y="816.11" text-anchor="end" textLength="38.53" lengthAdjust="spacing">0.175</text>
<text x="69.36" y="782.91" text-anchor="end" textLength="37.93" lengthAdjust="spacing">0.200</text>
<text x="68.87" y="749.65" text-anchor="end" textLength="37.93" lengthAdjust="spacing">0.225</text>
<text x="69.29" y="716.03" text-anchor="end" textLength="37.93" lengthAdjust="spacing">0.250</text>
<text x="68.84" y="683.34" text-anchor="end" textLength="37.93" lengthAdjust="spacing">0.275</text>
<text x="69.37" y="650.12" text-anchor="end" textLength="38.53" lengthAdjust="spacing">0.300</text>
<text x="68.83" y="616.86" text-anchor="end" textLength="37.93" lengthAdjust="spacing">0.325</text>
<text transform="translate(20.41 706.81) rotate(-90)" text-anchor="middle" textLength="134.4" lengthAdjust="spacing">Partial dependence</text>
<text x="801.32" y="846.53" text-anchor="middle">4</text>
<text x="886.42" y="847.06" text-anchor="middle">6</text>
<text x="971.48" y="846.88" text-anchor="middle">8</text>
<text x="1056.37" y="846.84" text-anchor="middle" textLength="17.06" lengthAdjust="spacing">10</text>
<text x="1141.36" y="846.7" text-anchor="middle" textLength="16.46" lengthAdjust="spacing">12</text>
<text x="1226.37" y="846.6" text-anchor="middle" textLength="17.06" lengthAdjust="spacing">14</text>
<text x="1008.65" y="866.2" text-anchor="middle" textLength="81.03" lengthAdjust="spacing">sma12_sqrt</text>
<text x="1449.09" y="846.98" text-anchor="middle" textLength="68.42" lengthAdjust="spacing">−0.00075</text>
<text x="1521.18" y="846.97" text-anchor="middle" textLength="67.82" lengthAdjust="spacing">−0.00050</text>
<text x="1592" y="846.92" text-anchor="middle" textLength="68.42" lengthAdjust="spacing">−0.00025</text>
<text x="1664.68" y="846.98" text-anchor="middle" textLength="54.99" lengthAdjust="spacing">0.00000</text>
<text x="1736.41" y="846.94" text-anchor="middle" textLength="55.59" lengthAdjust="spacing">0.00025</text>
<text x="1807.57" y="846.98" text-anchor="middle" textLength="55.59" lengthAdjust="spacing">0.00050</text>
<text x="1879.46" y="847" text-anchor="middle" textLength="55.59" lengthAdjust="spacing">0.00075</text>
<text x="1664.95" y="866.28" text-anchor="middle" textLength="52.56" lengthAdjust="spacing">percent</text>
<text x="166.41" y="1134.81" text-anchor="middle" textLength="17.06" lengthAdjust="spacing">30</text>
<text x="261.32" y="1134.77" text-anchor="middle" textLength="15.86" lengthAdjust="spacing">40</text>
<text x="355.41" y="1134.96" text-anchor="middle" textLength="17.06" lengthAdjust="spacing">50</text>
<text x="450.91" y="1135.02" text-anchor="middle" textLength="17.66" lengthAdjust="spacing">60</text>
<text x="544.25" y="1135.03" text-anchor="middle" textLength="17.06" lengthAdjust="spacing">70</text>
<text x="351.58" y="1154.44" text-anchor="middle" textLength="15.6" lengthAdjust="spacing">rsi</text>
<text x="68.22" y="1104.11" text-anchor="end" textLength="38.53" lengthAdjust="spacing">0.175</text>
<text x="69.36" y="1070.91" text-anchor="end" textLength="37.93" lengthAdjust="spacing">0.200</text>
<text x="68.87" y="1037.65" text-anchor="end" textLength="37.93" lengthAdjust="spacing">0.225</text>
<text x="69.29" y="1004.03" text-anchor="end" textLength="37.93" lengthAdjust="spacing">0.250</text>
<text x="68.84" y="971.34" text-anchor="end" textLength="37.93" lengthAdjust="spacing">0.275</text>
<text x="69.37" y="938.12" text-anchor="end" textLength="38.53" lengthAdjust="spacing">0.300</text>
<text x="68.83" y="904.86" text-anchor="end" textLength="37.93" lengthAdjust="spacing">0.325</text>
<text transform="translate(20.41 994.81) rotate(-90)" text-anchor="middle" textLength="134.4" lengthAdjust="spacing">Partial dependence</text>
<text x="822.03" y="1134.92" text-anchor="middle" textLength="34.11" lengthAdjust="spacing">1500</text>
<text x="915.66" y="1134.91" text-anchor="middle" textLength="34.71" lengthAdjust="spacing">2000</text>
<text x="1009.67" y="1134.9" text-anchor="middle" textLength="34.71" lengthAdjust="spacing">2500</text>
<text x="1101.93" y="1134.9" text-anchor="middle" textLength="34.11" lengthAdjust="spacing">3000</text>
<text x="1195.03" y="1134.89" text-anchor="middle" textLength="34.11" lengthAdjust="spacing">3500</text>
<text x="1007.7" y="1154.49" text-anchor="middle" textLength="47.86" lengthAdjust="spacing">rsi_dist</text>
<text x="1450.79" y="1134.82" text-anchor="middle" textLength="29.28" lengthAdjust="spacing">−10</text>
<text x="1543.65" y="1134.9" text-anchor="middle" textLength="19.27" lengthAdjust="spacing">−5</text>
<text x="1638.42" y="1134.98" text-anchor="middle">0</text>
<text x="1730.29" y="1134.94" text-anchor="middle">5</text>
<text x="1823.49" y="1134.84" text-anchor="middle" textLength="17.06" lengthAdjust="spacing">10</text>
<text x="1916.29" y="1134.85" text-anchor="middle" textLength="17.66" lengthAdjust="spacing">15</text>
<text x="1664.72" y="1154.49" text-anchor="middle" textLength="67.67" lengthAdjust="spacing">rsi_deriv1</text>
<text x="144.31" y="1422.77" text-anchor="middle" textLength="15.86" lengthAdjust="spacing">40</text>
<text x="251.34" y="1422.97" text-anchor="middle" textLength="17.06" lengthAdjust="spacing">50</text>
<text x="359.89" y="1423.02" text-anchor="middle" textLength="17.66" lengthAdjust="spacing">60</text>
<text x="468.22" y="1423.03" text-anchor="middle" textLength="17.06" lengthAdjust="spacing">70</text>
<text x="576.95" y="1422.92" text-anchor="middle" textLength="17.66" lengthAdjust="spacing">80</text>
<text x="350.84" y="1442.51" text-anchor="middle" textLength="77.96" lengthAdjust="spacing">max_rsi_12</text>
<text x="68.22" y="1392.11" text-anchor="end" textLength="38.53" lengthAdjust="spacing">0.175</text>
<text x="69.36" y="1358.91" text-anchor="end" textLength="37.93" lengthAdjust="spacing">0.200</text>
<text x="68.87" y="1325.65" text-anchor="end" textLength="37.93" lengthAdjust="spacing">0.225</text>
<text x="69.29" y="1292.03" text-anchor="end" textLength="37.93" lengthAdjust="spacing">0.250</text>
<text x="68.84" y="1259.34" text-anchor="end" textLength="37.93" lengthAdjust="spacing">0.275</text>
<text x="69.37" y="1226.12" text-anchor="end" textLength="38.53" lengthAdjust="spacing">0.300</text>
<text x="68.83" y="1192.86" text-anchor="end" textLength="37.93" lengthAdjust="spacing">0.325</text>
<text transform="translate(20.41 1282.81) rotate(-90)" text-anchor="middle" textLength="134.4" lengthAdjust="spacing">Partial dependence</text>
<text x="751.12" y="1422.88" text-anchor="middle" textLength="43.54" lengthAdjust="spacing">84000</text>
<text x="857.19" y="1422.98" text-anchor="middle" textLength="43.54" lengthAdjust="spacing">86000</text>
<text x="963.18" y="1422.94" text-anchor="middle" textLength="43.54" lengthAdjust="spacing">88000</text>
<text x="1070.27" y="1422.94" text-anchor="middle" textLength="42.34" lengthAdjust="spacing">90000</text>
<text x="1176.38" y="1422.88" text-anchor="middle" textLength="42.34" lengthAdjust="spacing">92000</text>
<text x="1282.33" y="1422.85" text-anchor="middle" textLength="42.34" lengthAdjust="spacing">94000</text>
<text x="1007.56" y="1442.46" text-anchor="middle" textLength="37.26" lengthAdjust="spacing">max5</text>
<text x="1442.14" y="1422.88" text-anchor="middle" textLength="43.54" lengthAdjust="spacing">84000</text>
<text x="1548.19" y="1422.98" text-anchor="middle" textLength="43.54" lengthAdjust="spacing">86000</text>
<text x="1655.19" y="1422.94" text-anchor="middle" textLength="43.54" lengthAdjust="spacing">88000</text>
<text x="1761.29" y="1422.94" text-anchor="middle" textLength="42.34" lengthAdjust="spacing">90000</text>
<text x="1867.37" y="1422.88" text-anchor="middle" textLength="42.34" lengthAdjust="spacing">92000</text>
<text x="1664.28" y="1442.46" text-anchor="middle" textLength="51.46" lengthAdjust="spacing">min180</text>
<text x="99.23" y="1710.54" text-anchor="middle" textLength="15.86" lengthAdjust="spacing">44</text>
<text x="187.36" y="1710.81" text-anchor="middle" textLength="16.46" lengthAdjust="spacing">46</text>
<text x="274.34" y="1710.73" text-anchor="middle" textLength="16.46" lengthAdjust="spacing">48</text>
<text x="361.39" y="1710.96" text-anchor="middle" textLength="17.06" lengthAdjust="spacing">50</text>
<text x="449.22" y="1710.83" text-anchor="middle" textLength="16.46" lengthAdjust="spacing">52</text>
<text x="536.34" y="1710.73" text-anchor="middle" textLength="17.06" lengthAdjust="spacing">54</text>
<text x="624.26" y="1711" text-anchor="middle" textLength="17.06" lengthAdjust="spacing">56</text>
<text x="352.09" y="1730.38" text-anchor="middle" textLength="53.07" lengthAdjust="spacing">rsi_long</text>
<text x="68.22" y="1680.11" text-anchor="end" textLength="38.53" lengthAdjust="spacing">0.175</text>
<text x="69.36" y="1646.91" text-anchor="end" textLength="37.93" lengthAdjust="spacing">0.200</text>
<text x="68.87" y="1613.65" text-anchor="end" textLength="37.93" lengthAdjust="spacing">0.225</text>
<text x="69.29" y="1580.03" text-anchor="end" textLength="37.93" lengthAdjust="spacing">0.250</text>
<text x="68.84" y="1547.34" text-anchor="end" textLength="37.93" lengthAdjust="spacing">0.275</text>
<text x="69.37" y="1514.12" text-anchor="end" textLength="38.53" lengthAdjust="spacing">0.300</text>
<text x="68.83" y="1480.86" text-anchor="end" textLength="37.93" lengthAdjust="spacing">0.325</text>
<text transform="translate(20.41 1570.81) rotate(-90)" text-anchor="middle" textLength="134.4" lengthAdjust="spacing">Partial dependence</text>
<text x="798.26" y="1710.87" text-anchor="middle" textLength="42.53" lengthAdjust="spacing">−0.10</text>
<text x="908.11" y="1710.96" text-anchor="middle" textLength="41.93" lengthAdjust="spacing">−0.05</text>
<text x="1018.69" y="1710.98" text-anchor="middle" textLength="29.71" lengthAdjust="spacing">0.00</text>
<text x="1127.53" y="1710.99" text-anchor="middle" textLength="29.71" lengthAdjust="spacing">0.05</text>
<text x="1237.76" y="1710.89" text-anchor="middle" textLength="29.71" lengthAdjust="spacing">0.10</text>
<text x="1008.73" y="1730.32" text-anchor="middle" textLength="36.38" lengthAdjust="spacing">trend</text>
<text x="1405.77" y="1710.97" text-anchor="middle" textLength="33.1" lengthAdjust="spacing">−0.6</text>
<text x="1493.77" y="1710.76" text-anchor="middle" textLength="33.1" lengthAdjust="spacing">−0.4</text>
<text x="1580.7" y="1710.83" text-anchor="middle" textLength="33.1" lengthAdjust="spacing">−0.2</text>
<text x="1669.34" y="1710.97" text-anchor="middle" textLength="20.88" lengthAdjust="spacing">0.0</text>
<text x="1757.27" y="1710.86" text-anchor="middle" textLength="20.88" lengthAdjust="spacing">0.2</text>
<text x="1844.36" y="1710.78" text-anchor="middle" textLength="20.28" lengthAdjust="spacing">0.4</text>
<text x="1931.28" y="1711.02" text-anchor="middle" textLength="20.28" lengthAdjust="spacing">0.6</text>
<text x="1664.35" y="1730.35" text-anchor="middle" textLength="19.35" lengthAdjust="spacing">rtp</text>
<text x="129.54" y="1998.98" text-anchor="middle" textLength="25.28" lengthAdjust="spacing">500</text>
<text x="213.92" y="1998.91" text-anchor="middle" textLength="34.11" lengthAdjust="spacing">1000</text>
<text x="298.99" y="1998.92" text-anchor="middle" textLength="34.11" lengthAdjust="spacing">1500</text>
<text x="382.63" y="1998.91" text-anchor="middle" textLength="34.71" lengthAdjust="spacing">2000</text>
<text x="467.68" y="1998.9" text-anchor="middle" textLength="34.71" lengthAdjust="spacing">2500</text>
<text x="550.91" y="1998.9" text-anchor="middle" textLength="34.11" lengthAdjust="spacing">3000</text>
<text x="352.09" y="2018.36" text-anchor="middle" textLength="74.77" lengthAdjust="spacing">volume_1h</text>
<text x="68.22" y="1968.11" text-anchor="end" textLength="38.53" lengthAdjust="spacing">0.175</text>
<text x="69.36" y="1934.91" text-anchor="end" textLength="37.93" lengthAdjust="spacing">0.200</text>
<text x="68.87" y="1901.65" text-anchor="end" textLength="37.93" lengthAdjust="spacing">0.225</text>
<text x="69.29" y="1868.03" text-anchor="end" textLength="37.93" lengthAdjust="spacing">0.250</text>
<text x="68.84" y="1835.34" text-anchor="end" textLength="37.93" lengthAdjust="spacing">0.275</text>
<text x="69.37" y="1802.12" text-anchor="end" textLength="38.53" lengthAdjust="spacing">0.300</text>
<text x="68.83" y="1768.86" text-anchor="end" textLength="37.93" lengthAdjust="spacing">0.325</text>
<text transform="translate(20.41 1858.81) rotate(-90)" text-anchor="middle" textLength="134.4" lengthAdjust="spacing">Partial dependence</text>
<text x="840.58" y="1998.9" text-anchor="middle" textLength="46.34" lengthAdjust="spacing">−1000</text>
<text x="960.17" y="1998.94" text-anchor="middle" textLength="37.51" lengthAdjust="spacing">−500</text>
<text x="1080.32" y="1998.98" text-anchor="middle">0</text>
<text x="1198.5" y="1998.98" text-anchor="middle" textLength="25.28" lengthAdjust="spacing">500</text>
<text x="1007.6" y="2018.37" text-anchor="middle" textLength="63.02" lengthAdjust="spacing">macd_1h</text>
<text x="1415.54" y="1998.84" text-anchor="middle" textLength="46.34" lengthAdjust="spacing">−1250</text>
<text x="1478.54" y="1998.9" text-anchor="middle" textLength="46.34" lengthAdjust="spacing">−1000</text>
<text x="1542.15" y="1998.97" text-anchor="middle" textLength="37.51" lengthAdjust="spacing">−750</text>
<text x="1605.17" y="1998.94" text-anchor="middle" textLength="37.51" lengthAdjust="spacing">−500</text>
<text x="1668.2" y="1998.86" text-anchor="middle" textLength="37.51" lengthAdjust="spacing">−250</text>
<text x="1733.36" y="1998.98" text-anchor="middle">0</text>
<text x="1795.28" y="1998.87" text-anchor="middle" textLength="26.48" lengthAdjust="spacing">250</text>
<text x="1858.48" y="1998.98" text-anchor="middle" textLength="25.88" lengthAdjust="spacing">500</text>
<text x="1921.54" y="1999" text-anchor="middle" textLength="25.88" lengthAdjust="spacing">750</text>
<text x="1664.17" y="2018.36" text-anchor="middle" textLength="103.46" lengthAdjust="spacing">macdsignal_1h</text>
<text x="96.24" y="2286.85" text-anchor="middle" textLength="37.51" lengthAdjust="spacing">−300</text>
<text x="176.17" y="2286.87" text-anchor="middle" textLength="37.51" lengthAdjust="spacing">−200</text>
<text x="255.23" y="2286.87" text-anchor="middle" textLength="37.51" lengthAdjust="spacing">−100</text>
<text x="336.26" y="2286.98" text-anchor="middle">0</text>
<text x="414.56" y="2286.89" text-anchor="middle" textLength="26.48" lengthAdjust="spacing">100</text>
<text x="494.25" y="2286.89" text-anchor="middle" textLength="26.48" lengthAdjust="spacing">200</text>
<text x="573.55" y="2286.87" text-anchor="middle" textLength="25.88" lengthAdjust="spacing">300</text>
<text x="351.07" y="2306.38" text-anchor="middle" textLength="87.74" lengthAdjust="spacing">macdhist_1h</text>
<text x="68.22" y="2256.11" text-anchor="end" textLength="38.53" lengthAdjust="spacing">0.175</text>
<text x="69.36" y="2222.91" text-anchor="end" textLength="37.93" lengthAdjust="spacing">0.200</text>
<text x="68.87" y="2189.65" text-anchor="end" textLength="37.93" lengthAdjust="spacing">0.225</text>
<text x="69.29" y="2156.03" text-anchor="end" textLength="37.93" lengthAdjust="spacing">0.250</text>
<text x="68.84" y="2123.34" text-anchor="end" textLength="37.93" lengthAdjust="spacing">0.275</text>
<text x="69.37" y="2090.12" text-anchor="end" textLength="38.53" lengthAdjust="spacing">0.300</text>
<text x="68.83" y="2056.86" text-anchor="end" textLength="37.93" lengthAdjust="spacing">0.325</text>
<text transform="translate(20.41 2146.81) rotate(-90)" text-anchor="middle" textLength="134.4" lengthAdjust="spacing">Partial dependence</text>
<text x="775.91" y="2286.83" text-anchor="middle" textLength="33.1" lengthAdjust="spacing">−1.5</text>
<text x="872.04" y="2286.82" text-anchor="middle" textLength="33.7" lengthAdjust="spacing">−1.0</text>
<text x="967.71" y="2286.94" text-anchor="middle" textLength="33.7" lengthAdjust="spacing">−0.5</text>
<text x="1065.33" y="2286.98" text-anchor="middle" textLength="20.88" lengthAdjust="spacing">0.0</text>
<text x="1161.24" y="2286.99" text-anchor="middle" textLength="20.28" lengthAdjust="spacing">0.5</text>
<text x="1257.54" y="2286.85" text-anchor="middle" textLength="21.48" lengthAdjust="spacing">1.0</text>
<text x="1008.1" y="2306.48" text-anchor="middle" textLength="122.34" lengthAdjust="spacing">sma60_deriv1_1h</text>
<text x="1411.13" y="2286.88" text-anchor="middle" textLength="43.54" lengthAdjust="spacing">84000</text>
<text x="1517.2" y="2286.98" text-anchor="middle" textLength="43.54" lengthAdjust="spacing">86000</text>
<text x="1624.19" y="2286.94" text-anchor="middle" textLength="43.54" lengthAdjust="spacing">88000</text>
<text x="1730.31" y="2286.94" text-anchor="middle" textLength="42.34" lengthAdjust="spacing">90000</text>
<text x="1837.36" y="2286.88" text-anchor="middle" textLength="42.34" lengthAdjust="spacing">92000</text>
<text x="1664.93" y="2306.38" text-anchor="middle" textLength="106.84" lengthAdjust="spacing">bb_middleband</text>
<text x="127.39" y="2574.97" text-anchor="middle" textLength="20.88" lengthAdjust="spacing">0.0</text>
<text x="217.25" y="2574.86" text-anchor="middle" textLength="20.88" lengthAdjust="spacing">0.2</text>
<text x="308.33" y="2574.78" text-anchor="middle" textLength="20.28" lengthAdjust="spacing">0.4</text>
<text x="399.26" y="2575.02" text-anchor="middle" textLength="20.28" lengthAdjust="spacing">0.6</text>
<text x="489.38" y="2574.93" text-anchor="middle" textLength="20.88" lengthAdjust="spacing">0.8</text>
<text x="580.61" y="2574.85" text-anchor="middle" textLength="20.88" lengthAdjust="spacing">1.0</text>
<text x="352.33" y="2594.32" text-anchor="middle" textLength="77.1" lengthAdjust="spacing">bb_percent</text>
<text x="68.22" y="2544.11" text-anchor="end" textLength="38.53" lengthAdjust="spacing">0.175</text>
<text x="69.36" y="2510.91" text-anchor="end" textLength="37.93" lengthAdjust="spacing">0.200</text>
<text x="68.87" y="2477.65" text-anchor="end" textLength="37.93" lengthAdjust="spacing">0.225</text>
<text x="69.29" y="2444.03" text-anchor="end" textLength="37.93" lengthAdjust="spacing">0.250</text>
<text x="68.84" y="2411.34" text-anchor="end" textLength="37.93" lengthAdjust="spacing">0.275</text>
<text x="69.37" y="2378.12" text-anchor="end" textLength="38.53" lengthAdjust="spacing">0.300</text>
<text x="68.83" y="2344.86" text-anchor="end" textLength="37.93" lengthAdjust="spacing">0.325</text>
<text transform="translate(20.41 2434.81) rotate(-90)" text-anchor="middle" textLength="134.4" lengthAdjust="spacing">Partial dependence</text>
<text x="786.8" y="2574.91" text-anchor="middle" textLength="37.33" lengthAdjust="spacing">0.002</text>
<text x="894.88" y="2574.88" text-anchor="middle" textLength="38.53" lengthAdjust="spacing">0.004</text>
<text x="1003.81" y="2575" text-anchor="middle" textLength="38.53" lengthAdjust="spacing">0.006</text>
<text x="1111.95" y="2574.95" text-anchor="middle" textLength="37.93" lengthAdjust="spacing">0.008</text>
<text x="1220.04" y="2574.92" text-anchor="middle" textLength="38.53" lengthAdjust="spacing">0.010</text>
<text x="1007.69" y="2594.39" text-anchor="middle" textLength="61.6" lengthAdjust="spacing">bb_width</text>
<text x="1482.24" y="2574.87" text-anchor="middle" textLength="37.51" lengthAdjust="spacing">−100</text>
<text x="1579.93" y="2574.93" text-anchor="middle" textLength="28.08" lengthAdjust="spacing">−50</text>
<text x="1678.42" y="2574.98" text-anchor="middle">0</text>
<text x="1775.39" y="2574.97" text-anchor="middle" textLength="17.06" lengthAdjust="spacing">50</text>
<text x="1872.52" y="2574.89" text-anchor="middle" textLength="26.48" lengthAdjust="spacing">100</text>
<text x="1664.52" y="2594.3" text-anchor="middle" textLength="37.27" lengthAdjust="spacing">macd</text>
<text x="158.16" y="2862.87" text-anchor="middle" textLength="37.51" lengthAdjust="spacing">−100</text>
<text x="261.84" y="2862.92" text-anchor="middle" textLength="28.08" lengthAdjust="spacing">−50</text>
<text x="365.41" y="2862.98" text-anchor="middle">0</text>
<text x="467.34" y="2862.97" text-anchor="middle" textLength="17.06" lengthAdjust="spacing">50</text>
<text x="570.56" y="2862.89" text-anchor="middle" textLength="26.48" lengthAdjust="spacing">100</text>
<text x="352.09" y="2882.32" text-anchor="middle" textLength="78.9" lengthAdjust="spacing">macdsignal</text>
<text x="68.22" y="2832.11" text-anchor="end" textLength="38.53" lengthAdjust="spacing">0.175</text>
<text x="69.36" y="2798.91" text-anchor="end" textLength="37.93" lengthAdjust="spacing">0.200</text>
<text x="68.87" y="2765.65" text-anchor="end" textLength="37.93" lengthAdjust="spacing">0.225</text>
<text x="69.29" y="2732.03" text-anchor="end" textLength="37.93" lengthAdjust="spacing">0.250</text>
<text x="68.84" y="2699.34" text-anchor="end" textLength="37.93" lengthAdjust="spacing">0.275</text>
<text x="69.37" y="2666.12" text-anchor="end" textLength="38.53" lengthAdjust="spacing">0.300</text>
<text x="68.83" y="2632.86" text-anchor="end" textLength="37.93" lengthAdjust="spacing">0.325</text>
<text transform="translate(20.41 2722.81) rotate(-90)" text-anchor="middle" textLength="134.4" lengthAdjust="spacing">Partial dependence</text>
<text x="799.98" y="2862.79" text-anchor="middle" textLength="28.08" lengthAdjust="spacing">−30</text>
<text x="867.84" y="2862.82" text-anchor="middle" textLength="28.08" lengthAdjust="spacing">−20</text>
<text x="935.81" y="2862.82" text-anchor="middle" textLength="29.28" lengthAdjust="spacing">−10</text>
<text x="1005.39" y="2862.98" text-anchor="middle">0</text>
<text x="1073.4" y="2862.84" text-anchor="middle" textLength="17.66" lengthAdjust="spacing">10</text>
<text x="1140.84" y="2862.84" text-anchor="middle" textLength="17.66" lengthAdjust="spacing">20</text>
<text x="1209.42" y="2862.81" text-anchor="middle" textLength="17.06" lengthAdjust="spacing">30</text>
<text x="1278.32" y="2862.77" text-anchor="middle" textLength="15.86" lengthAdjust="spacing">40</text>
<text x="1007.84" y="2882.34" text-anchor="middle" textLength="63.18" lengthAdjust="spacing">macdhist</text>
<text x="1408.15" y="2862.88" text-anchor="middle" textLength="43.54" lengthAdjust="spacing">84000</text>
<text x="1515.2" y="2862.98" text-anchor="middle" textLength="43.54" lengthAdjust="spacing">86000</text>
<text x="1622.19" y="2862.94" text-anchor="middle" textLength="43.54" lengthAdjust="spacing">88000</text>
<text x="1730.31" y="2862.94" text-anchor="middle" textLength="42.34" lengthAdjust="spacing">90000</text>
<text x="1837.37" y="2862.88" text-anchor="middle" textLength="42.34" lengthAdjust="spacing">92000</text>
<text x="1665.13" y="2882.33" text-anchor="middle" textLength="62.67" lengthAdjust="spacing">sma_100</text>
<text x="131.93" y="3150.81" text-anchor="middle" textLength="28.08" lengthAdjust="spacing">−20</text>
<text x="245.77" y="3150.82" text-anchor="middle" textLength="29.28" lengthAdjust="spacing">−10</text>
<text x="360.29" y="3150.98" text-anchor="middle">0</text>
<text x="474.4" y="3150.84" text-anchor="middle" textLength="17.66" lengthAdjust="spacing">10</text>
<text x="587.88" y="3150.84" text-anchor="middle" textLength="17.66" lengthAdjust="spacing">20</text>
<text x="352.75" y="3170.26" text-anchor="middle" textLength="36.32" lengthAdjust="spacing">slope</text>
<text x="68.22" y="3120.11" text-anchor="end" textLength="38.53" lengthAdjust="spacing">0.175</text>
<text x="69.36" y="3086.91" text-anchor="end" textLength="37.93" lengthAdjust="spacing">0.200</text>
<text x="68.87" y="3053.65" text-anchor="end" textLength="37.93" lengthAdjust="spacing">0.225</text>
<text x="69.29" y="3020.03" text-anchor="end" textLength="37.93" lengthAdjust="spacing">0.250</text>
<text x="68.84" y="2987.34" text-anchor="end" textLength="37.93" lengthAdjust="spacing">0.275</text>
<text x="69.37" y="2954.12" text-anchor="end" textLength="38.53" lengthAdjust="spacing">0.300</text>
<text x="68.83" y="2920.86" text-anchor="end" textLength="37.93" lengthAdjust="spacing">0.325</text>
<text transform="translate(20.41 3010.81) rotate(-90)" text-anchor="middle" textLength="134.4" lengthAdjust="spacing">Partial dependence</text>
<text x="759.91" y="3150.81" text-anchor="middle" textLength="28.08" lengthAdjust="spacing">−20</text>
<text x="824.8" y="3150.83" text-anchor="middle" textLength="28.68" lengthAdjust="spacing">−15</text>
<text x="889.8" y="3150.82" text-anchor="middle" textLength="29.28" lengthAdjust="spacing">−10</text>
<text x="954.47" y="3150.9" text-anchor="middle" textLength="19.27" lengthAdjust="spacing">−5</text>
<text x="1020.3" y="3150.98" text-anchor="middle">0</text>
<text x="1085.44" y="3150.94" text-anchor="middle">5</text>
<text x="1150.39" y="3150.84" text-anchor="middle" textLength="17.06" lengthAdjust="spacing">10</text>
<text x="1215.3" y="3150.85" text-anchor="middle" textLength="17.66" lengthAdjust="spacing">15</text>
<text x="1279.83" y="3150.84" text-anchor="middle" textLength="17.66" lengthAdjust="spacing">20</text>
<text x="1009" y="3170.3" text-anchor="middle" textLength="95.81" lengthAdjust="spacing">slope_smooth</text>
<text x="1432.32" y="3150.77" text-anchor="middle" textLength="15.86" lengthAdjust="spacing">40</text>
<text x="1504.9" y="3151.02" text-anchor="middle" textLength="17.66" lengthAdjust="spacing">60</text>
<text x="1577.94" y="3150.92" text-anchor="middle" textLength="17.66" lengthAdjust="spacing">80</text>
<text x="1651.57" y="3150.89" text-anchor="middle" textLength="26.48" lengthAdjust="spacing">100</text>
<text x="1724.6" y="3150.79" text-anchor="middle" textLength="26.48" lengthAdjust="spacing">120</text>
<text x="1797.59" y="3150.73" text-anchor="middle" textLength="26.48" lengthAdjust="spacing">140</text>
<text x="1870.64" y="3150.92" text-anchor="middle" textLength="26.48" lengthAdjust="spacing">160</text>
<text x="1665.28" y="3170.35" text-anchor="middle" textLength="18.46" lengthAdjust="spacing">atr</text>
<text x="104.2" y="3438.9" text-anchor="middle" textLength="46.16" lengthAdjust="spacing">0.0004</text>
<text x="167.13" y="3439" text-anchor="middle" textLength="47.36" lengthAdjust="spacing">0.0006</text>
<text x="231.2" y="3438.96" text-anchor="middle" textLength="47.96" lengthAdjust="spacing">0.0008</text>
<text x="294.33" y="3438.93" text-anchor="middle" textLength="47.36" lengthAdjust="spacing">0.0010</text>
<text x="358.07" y="3438.87" text-anchor="middle" textLength="46.76" lengthAdjust="spacing">0.0012</text>
<text x="421.17" y="3438.85" text-anchor="middle" textLength="47.36" lengthAdjust="spacing">0.0014</text>
<text x="485.14" y="3438.95" text-anchor="middle" textLength="47.36" lengthAdjust="spacing">0.0016</text>
<text x="548.3" y="3438.91" text-anchor="middle" textLength="47.36" lengthAdjust="spacing">0.0018</text>
<text x="612.25" y="3438.93" text-anchor="middle" textLength="46.16" lengthAdjust="spacing">0.0020</text>
<text x="352.71" y="3458.23" text-anchor="middle" textLength="61.64" lengthAdjust="spacing">atr_norm</text>
<text x="68.22" y="3408.11" text-anchor="end" textLength="38.53" lengthAdjust="spacing">0.175</text>
<text x="69.36" y="3374.91" text-anchor="end" textLength="37.93" lengthAdjust="spacing">0.200</text>
<text x="68.87" y="3341.65" text-anchor="end" textLength="37.93" lengthAdjust="spacing">0.225</text>
<text x="69.29" y="3308.03" text-anchor="end" textLength="37.93" lengthAdjust="spacing">0.250</text>
<text x="68.84" y="3275.34" text-anchor="end" textLength="37.93" lengthAdjust="spacing">0.275</text>
<text x="69.37" y="3242.12" text-anchor="end" textLength="38.53" lengthAdjust="spacing">0.300</text>
<text x="68.83" y="3208.86" text-anchor="end" textLength="37.93" lengthAdjust="spacing">0.325</text>
<text transform="translate(20.41 3298.81) rotate(-90)" text-anchor="middle" textLength="134.4" lengthAdjust="spacing">Partial dependence</text>
<text x="797.79" y="3438.65" text-anchor="middle" textLength="33.1" lengthAdjust="spacing">−4.2</text>
<text x="911.93" y="3438.77" text-anchor="middle" textLength="33.1" lengthAdjust="spacing">−4.0</text>
<text x="1026.07" y="3438.78" text-anchor="middle" textLength="33.7" lengthAdjust="spacing">−3.8</text>
<text x="1139.93" y="3438.86" text-anchor="middle" textLength="33.1" lengthAdjust="spacing">−3.6</text>
<text x="1254.92" y="3438.63" text-anchor="middle" textLength="33.1" lengthAdjust="spacing">−3.4</text>
<text x="1009.07" y="3458.4" text-anchor="middle" textLength="56.58" lengthAdjust="spacing">obv_dist</text>
<text x="1477.07" y="3438.88" text-anchor="middle" textLength="41.93" lengthAdjust="spacing">−0.02</text>
<text x="1567.17" y="3438.87" text-anchor="middle" textLength="41.93" lengthAdjust="spacing">−0.01</text>
<text x="1659.69" y="3438.98" text-anchor="middle" textLength="29.71" lengthAdjust="spacing">0.00</text>
<text x="1749.61" y="3438.9" text-anchor="middle" textLength="29.71" lengthAdjust="spacing">0.01</text>
<text x="1840.53" y="3438.89" text-anchor="middle" textLength="29.11" lengthAdjust="spacing">0.02</text>
<text x="1931.5" y="3438.88" text-anchor="middle" textLength="29.71" lengthAdjust="spacing">0.03</text>
<text x="1665.25" y="3458.42" text-anchor="middle" textLength="76.39" lengthAdjust="spacing">obv_deriv1</text>
<text x="85.2" y="3726.93" text-anchor="middle" textLength="42.53" lengthAdjust="spacing">−0.08</text>
<text x="151.1" y="3726.98" text-anchor="middle" textLength="41.93" lengthAdjust="spacing">−0.06</text>
<text x="218.14" y="3726.83" text-anchor="middle" textLength="41.93" lengthAdjust="spacing">−0.04</text>
<text x="284.06" y="3726.88" text-anchor="middle" textLength="41.33" lengthAdjust="spacing">−0.02</text>
<text x="351.71" y="3726.98" text-anchor="middle" textLength="29.71" lengthAdjust="spacing">0.00</text>
<text x="417.52" y="3726.89" text-anchor="middle" textLength="29.11" lengthAdjust="spacing">0.02</text>
<text x="483.61" y="3726.85" text-anchor="middle" textLength="29.71" lengthAdjust="spacing">0.04</text>
<text x="549.61" y="3727" text-anchor="middle" textLength="29.71" lengthAdjust="spacing">0.06</text>
<text x="616.73" y="3726.95" text-anchor="middle" textLength="29.71" lengthAdjust="spacing">0.08</text>
<text x="352.13" y="3746.42" text-anchor="middle" textLength="75.19" lengthAdjust="spacing">obv_deriv2</text>
<text x="68.22" y="3696.11" text-anchor="end" textLength="38.53" lengthAdjust="spacing">0.175</text>
<text x="69.36" y="3662.91" text-anchor="end" textLength="37.93" lengthAdjust="spacing">0.200</text>
<text x="68.87" y="3629.65" text-anchor="end" textLength="37.93" lengthAdjust="spacing">0.225</text>
<text x="69.29" y="3596.03" text-anchor="end" textLength="37.93" lengthAdjust="spacing">0.250</text>
<text x="68.84" y="3563.34" text-anchor="end" textLength="37.93" lengthAdjust="spacing">0.275</text>
<text x="69.37" y="3530.12" text-anchor="end" textLength="38.53" lengthAdjust="spacing">0.300</text>
<text x="68.83" y="3496.86" text-anchor="end" textLength="37.93" lengthAdjust="spacing">0.325</text>
<text transform="translate(20.41 3586.81) rotate(-90)" text-anchor="middle" textLength="134.4" lengthAdjust="spacing">Partial dependence</text>
<text x="744.13" y="3726.93" text-anchor="middle" textLength="46.76" lengthAdjust="spacing">0.0002</text>
<text x="812.07" y="3726.91" text-anchor="middle" textLength="46.76" lengthAdjust="spacing">0.0003</text>
<text x="881.2" y="3726.9" text-anchor="middle" textLength="46.16" lengthAdjust="spacing">0.0004</text>
<text x="949.19" y="3726.98" text-anchor="middle" textLength="46.76" lengthAdjust="spacing">0.0005</text>
<text x="1017.15" y="3727" text-anchor="middle" textLength="47.36" lengthAdjust="spacing">0.0006</text>
<text x="1086.29" y="3727" text-anchor="middle" textLength="46.76" lengthAdjust="spacing">0.0007</text>
<text x="1154.19" y="3726.96" text-anchor="middle" textLength="47.96" lengthAdjust="spacing">0.0008</text>
<text x="1222.12" y="3726.94" text-anchor="middle" textLength="47.96" lengthAdjust="spacing">0.0009</text>
<text x="1008.49" y="3746.38" text-anchor="middle" textLength="43.36" lengthAdjust="spacing">vol_24</text>
</g></svg>
</body></html>
